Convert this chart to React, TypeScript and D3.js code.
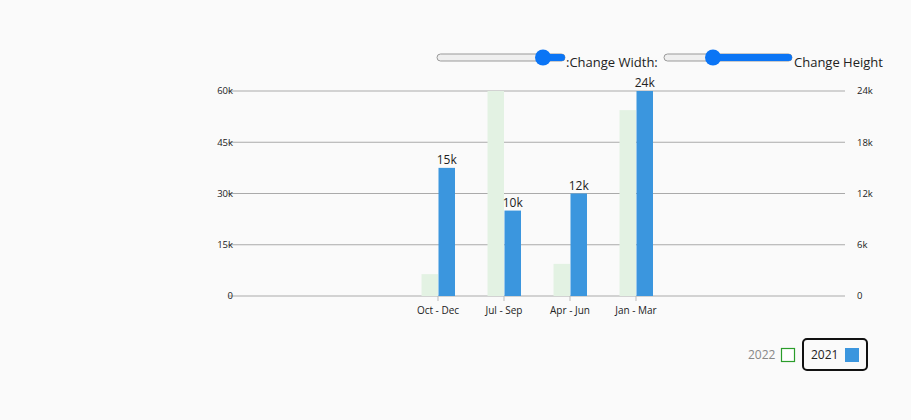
import React, { useEffect, useRef } from 'react';
import * as d3 from 'd3';

const categories = ['Oct - Dec', 'Jul - Sep', 'Apr - Jun', 'Jan - Mar'];
const values2022 = [6400, 60000, 9400, 54400];
const values2021 = [15000, 10000, 12000, 24000];
const labels2021 = ['15k', '10k', '12k', '24k'];
const leftTicks = [0, 15000, 30000, 45000, 60000];
const rightTicks = [0, 6000, 12000, 18000, 24000];

const W = 911;
const H = 420;
const FONT = '"Open Sans", sans-serif';

export default function App() {
  const svgRef = useRef<SVGSVGElement>(null);

  useEffect(() => {
    if (!svgRef.current) return;
    const svg = d3.select(svgRef.current);
    svg.selectAll('*').remove();

    svg.append('rect').attr('width', W).attr('height', H).attr('fill', '#fafafa');

    const plot = { left: 228, right: 845, top: 91, bottom: 296 };
    const yLeft = d3.scaleLinear().domain([0, 60000]).range([plot.bottom, plot.top]);
    const yRight = d3.scaleLinear().domain([0, 24000]).range([plot.bottom, plot.top]);
    const x = d3.scaleBand<string>().domain(categories).range([405, 669]);
    const barW = 16.5;

    // gridlines + left labels
    leftTicks.forEach((t) => {
      svg.append('line')
        .attr('x1', plot.left).attr('x2', plot.right)
        .attr('y1', yLeft(t)).attr('y2', yLeft(t))
        .attr('stroke', '#aaa').attr('stroke-width', 1);
      svg.append('text')
        .attr('x', 233).attr('y', yLeft(t)).attr('dy', '0.35em')
        .attr('text-anchor', 'end').attr('font-size', 9.5).attr('font-family', FONT)
        .attr('fill', '#222').text(t === 0 ? '0' : `${t / 1000}k`);
    });
    rightTicks.forEach((t) => {
      svg.append('text')
        .attr('x', 857).attr('y', yRight(t)).attr('dy', '0.35em')
        .attr('font-size', 9.5).attr('font-family', FONT)
        .attr('fill', '#222').text(t === 0 ? '0' : `${t / 1000}k`);
    });

    categories.forEach((c, i) => {
      const cx = x(c)! + x.bandwidth() / 2;
      svg.append('rect')
        .attr('x', cx - barW).attr('y', yLeft(values2022[i]))
        .attr('width', barW).attr('height', plot.bottom - yLeft(values2022[i]))
        .attr('fill', '#e3f2e3');
      svg.append('rect')
        .attr('x', cx + 0.5).attr('y', yRight(values2021[i]))
        .attr('width', barW).attr('height', plot.bottom - yRight(values2021[i]))
        .attr('fill', '#3b96de');
      svg.append('text')
        .attr('x', cx + 0.5 + barW / 2).attr('y', yRight(values2021[i]) - 4)
        .attr('text-anchor', 'middle').attr('font-size', 12).attr('font-family', FONT)
        .attr('fill', '#222').text(labels2021[i]);
      svg.append('line')
        .attr('x1', cx).attr('x2', cx).attr('y1', plot.bottom).attr('y2', plot.bottom + 5)
        .attr('stroke', '#bbb');
      svg.append('text')
        .attr('x', cx).attr('y', plot.bottom + 18)
        .attr('text-anchor', 'middle').attr('font-size', 10).attr('font-family', FONT)
        .attr('fill', '#222').text(c);
    });

    // sliders
    const slider = (x0: number, thumb: number) => {
      const g = svg.append('g');
      g.append('rect').attr('x', x0).attr('y', 54).attr('width', 128).attr('height', 7).attr('rx', 3.5)
        .attr('fill', '#efefef').attr('stroke', '#999');
      g.append('rect').attr('x', thumb).attr('y', 54).attr('width', x0 + 128 - thumb).attr('height', 7).attr('rx', 3.5)
        .attr('fill', '#0b75f5');
      g.append('circle').attr('cx', thumb).attr('cy', 57.5).attr('r', 8).attr('fill', '#0b75f5');
    };
    slider(437, 543);
    slider(664, 713);
    svg.append('text').attr('x', 566).attr('y', 67).attr('font-size', 13).attr('font-family', FONT)
      .attr('fill', '#222').text(':Change Width:');
    svg.append('text').attr('x', 794).attr('y', 67).attr('font-size', 13).attr('font-family', FONT)
      .attr('fill', '#222').text('Change Height');

    // legend
    svg.append('text').attr('x', 748).attr('y', 359).attr('font-size', 12).attr('font-family', FONT)
      .attr('fill', '#888').text('2022');
    svg.append('rect').attr('x', 781.5).attr('y', 348.5).attr('width', 13).attr('height', 13)
      .attr('fill', '#fff').attr('stroke', '#2a9d2a').attr('stroke-width', 1.2);
    svg.append('rect').attr('x', 803).attr('y', 339).attr('width', 64).attr('height', 31).attr('rx', 4)
      .attr('fill', 'none').attr('stroke', '#111').attr('stroke-width', 2);
    svg.append('text').attr('x', 811).attr('y', 359).attr('font-size', 12).attr('font-family', FONT)
      .attr('fill', '#222').text('2021');
    svg.append('rect').attr('x', 845).attr('y', 348).attr('width', 14).attr('height', 14).attr('fill', '#3b96de');
  }, []);

  return <svg ref={svgRef} width={W} height={H} style={{ position: 'absolute', left: 0, top: 0 }} />;
}
